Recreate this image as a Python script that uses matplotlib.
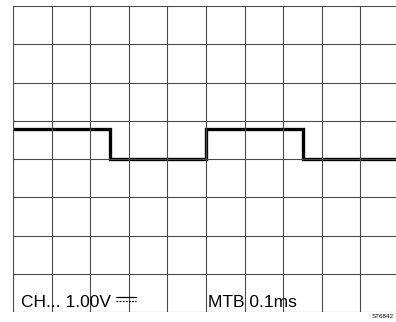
import matplotlib.pyplot as plt
import numpy as np

# screen: 10 x 8 divisions
xDivs = 10
yDivs = 8

# square wave, in divisions (edges along time axis, level in each segment)
edges = [0, 2.5, 5, 7.5, 10]
levels = [4.78, 4.0, 4.78, 4.0]

chLabel = "CH... 1.00V"
mtbLabel = "MTB 0.1ms"
figCode = "ST6842"

fig = plt.figure(figsize=(3.96, 3.22), dpi=100)
ax = fig.add_axes([13 / 396, 10 / 322, 386 / 396, 306 / 322])
ax.set_xlim(0, xDivs)
ax.set_ylim(0, yDivs)

# graticule
for i in range(xDivs + 1):
    ax.axvline(i, color='#4a4a4a', lw=0.8)
for j in range(yDivs + 1):
    ax.axhline(j, color='#4a4a4a', lw=0.8)

ax.stairs(levels, edges, color='black', lw=2.4, baseline=None)

plt.rcParams['font.family'] = ['Liberation Sans', 'DejaVu Sans']
ax.text(0.2, 0.13, chLabel, fontsize=12.5, ha='left', va='baseline')
# DC symbol
ax.plot([2.66, 3.18], [0.40, 0.40], color='black', lw=0.9)
ax.plot([2.66, 3.18], [0.28, 0.28], color='black', lw=0.9, ls=(0, (1.5, 1)))
ax.text(5.05, 0.13, mtbLabel, fontsize=12.5, ha='left', va='baseline')

fig.text(394 / 396, 1 - 316 / 322, figCode, fontsize=4.5, ha='right', va='center')

for s in ax.spines.values():
    s.set_visible(False)
ax.set_xticks([])
ax.set_yticks([])

plt.savefig("out.png", dpi=100)
